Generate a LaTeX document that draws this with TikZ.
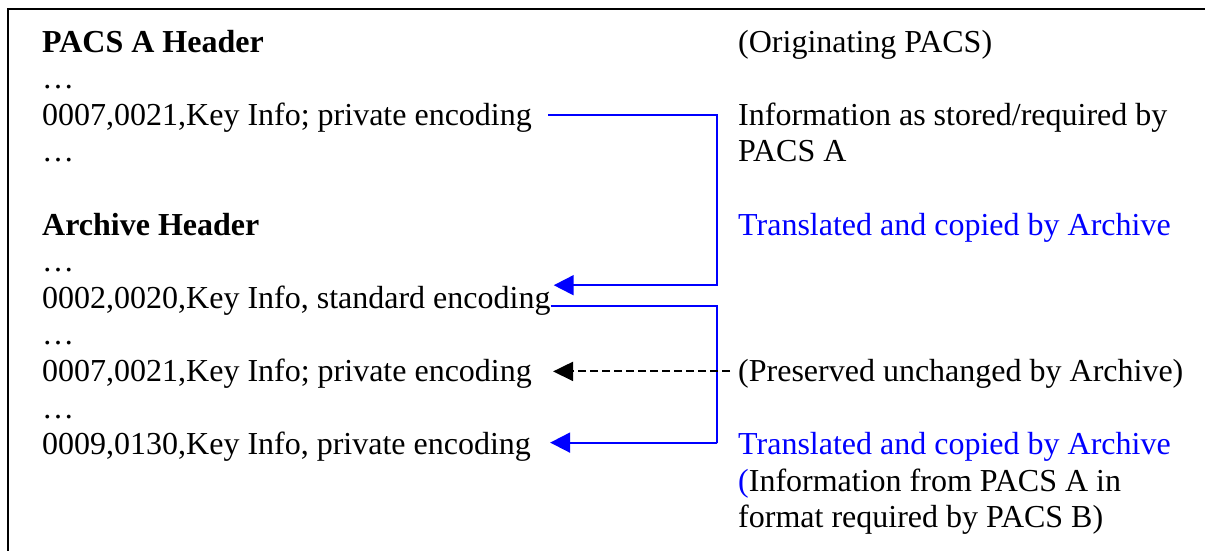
\documentclass[tikz,border=0pt]{standalone}
\usepackage{fontspec}
\setmainfont{Liberation Serif}
\usetikzlibrary{arrows.meta}
\begin{document}
\begin{tikzpicture}[x=1pt,y=-1pt,
  txt/.style={anchor=base west,inner sep=0pt,font=\fontsize{32}{36}\selectfont},
  hdr/.style={anchor=base west,inner sep=0pt,font=\fontsize{32}{36}\selectfont\bfseries},
  bluetxt/.style={txt,text=blue},
  conn/.style={blue,line width=2pt,-{Triangle[length=20pt,width=20pt]}},
  keep/.style={black,line width=2pt,dash pattern=on 8pt off 4pt,-{Triangle[length=20pt,width=19pt]}}]
\useasboundingbox (0,0) rectangle (1205,550);
\draw[line width=2pt] (7.5,8.5) rectangle (1225,575);
% left column
\node[hdr] (l1) at (42,52) {PACS A Header};
\node[txt] (l2) at (42,88.6) {…};
\node[txt] (l3) at (42,125.2) {0007,0021,Key Info; private encoding};
\node[txt] (l4) at (42,161.8) {…};
\node[hdr] (l6) at (42,235) {Archive Header};
\node[txt] (l7) at (42,271.6) {…};
\node[txt] (l8) at (42,308.2) {0002,0020,Key Info, standard encoding};
\node[txt] (l9) at (42,344.8) {…};
\node[txt] (l10) at (42,381.4) {0007,0021,Key Info; private encoding};
\node[txt] (l11) at (42,418) {…};
\node[txt] (l12) at (42,454.6) {0009,0130,Key Info, private encoding};
% right column
\node[txt] (r1) at (738,52) {(Originating PACS)};
\node[txt] (r3) at (738,125.2) {Information as stored/required by};
\node[txt] (r4) at (738,161.8) {PACS A};
\node[bluetxt] (r6) at (738,235) {Translated and copied by Archive};
\node[txt] (r10) at (738,381.4) {(Preserved unchanged by Archive)};
\node[bluetxt] (r12) at (738,454.6) {Translated and copied by Archive};
\node[txt] (r13) at (738,491.2) {\textcolor{blue}{(}Information from PACS A in};
\node[txt] (r14) at (738,527.8) {format required by PACS B)};
% connectors
\coordinate (v1) at (717,285);
\coordinate (v2) at (717,443);
\draw[conn] ([xshift=16pt,yshift=10pt]l3.base east) -| (v1) |- ([xshift=3pt,yshift=23pt]l8.base east);
\draw[conn] ([yshift=2pt]l8.base east) -| (v2) |- ([xshift=19pt,yshift=12pt]l12.base east);
\draw[keep] ([xshift=-8pt,yshift=10pt]r10.base west) -- ([xshift=21pt,yshift=10pt]l10.base east);
\end{tikzpicture}
\end{document}
